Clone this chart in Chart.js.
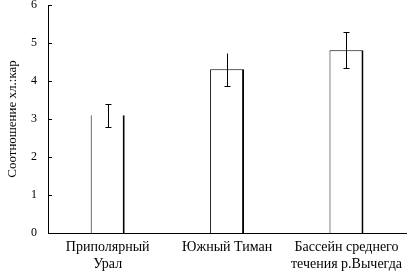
<!DOCTYPE html>
<html>
<head>
<meta charset="utf-8">
<script src="https://cdn.jsdelivr.net/npm/chart.js@4.4.0/dist/chart.umd.min.js"></script>
<style>
  html, body { margin: 0; padding: 0; background: #fff; }
  #wrap { width: 408px; height: 274px; }
</style>
</head>
<body>
<div id="wrap"><canvas id="myChart" width="408" height="274"></canvas></div>
<script>
// регионы и средние значения
const regions = [['Приполярный', 'Урал'], 'Южный Тиман', ['Бассейн среднего', 'течения р.Вычегда']];
const ratio = [3.1, 4.31, 4.81];
const errLow = [2.8, 3.87, 4.33];
const errHigh = [3.4, 4.73, 5.28];
const yTicks = [0, 1, 2, 3, 4, 5, 6];

const FONT = "'Liberation Serif', 'Times New Roman', serif";

// усы погрешности
const errorBars = {
    id: 'errorBars',
    afterDatasetsDraw(chart) {
        const ctx = chart.ctx;
        const y = chart.scales.y;
        const meta = chart.getDatasetMeta(0);
        ctx.save();
        ctx.strokeStyle = '#000';
        ctx.lineWidth = 1;
        meta.data.forEach((bar, i) => {
            const x = Math.round(bar.x) + 0.5;
            const top = Math.round(y.getPixelForValue(errHigh[i])) + 0.5;
            const bot = Math.round(y.getPixelForValue(errLow[i])) + 0.5;
            ctx.beginPath();
            ctx.moveTo(x, top);
            ctx.lineTo(x, bot);
            if (i !== 1) {   // у второго столбика верхней засечки нет
                ctx.moveTo(x - 3, top);
                ctx.lineTo(x + 3, top);
            }
            ctx.moveTo(x - 3, bot);
            ctx.lineTo(x + 3, bot);
            ctx.stroke();
        });
        ctx.restore();
    }
};

// засечки оси Y внутрь
const innerTicks = {
    id: 'innerTicks',
    afterDraw(chart) {
        const ctx = chart.ctx;
        const y = chart.scales.y;
        const left = chart.chartArea.left;
        ctx.save();
        ctx.strokeStyle = '#000';
        ctx.lineWidth = 1;
        yTicks.forEach(v => {
            const py = Math.round(y.getPixelForValue(v)) + 0.5;
            ctx.beginPath();
            ctx.moveTo(left, py);
            ctx.lineTo(left + 4, py);
            ctx.stroke();
        });
        ctx.restore();
    }
};

const config = {
    type: 'bar',
    data: {
        labels: regions,
        datasets: [{
            data: ratio,
            backgroundColor: '#fff',
            borderColor: '#000',
            borderSkipped: false,
            borderWidth: (c) => ({ left: 1, right: 2, top: c.dataIndex === 0 ? 0 : 1, bottom: 0 }),
            inflateAmount: 0,
            barThickness: 34
        }]
    },
    options: {
        responsive: false,
        animation: false,
        layout: { padding: { top: 5, right: 0, left: 0, bottom: 0 } },
        plugins: { legend: { display: false }, tooltip: { enabled: false } },
        scales: {
            x: {
                afterFit: (s) => { s.height = 41; },
                grid: { display: false, drawTicks: false },
                border: { color: '#000', width: 1 },
                ticks: { color: '#000', padding: 6, maxRotation: 0, autoSkip: false,
                         font: { family: FONT, size: 14, lineHeight: 1.2 } }
            },
            y: {
                min: 0, max: 6,
                afterFit: (s) => { s.width = 48; s.paddingTop = 0; s.paddingBottom = 0; },
                grid: { display: false, drawTicks: false },
                border: { color: '#000', width: 1 },
                afterBuildTicks: (s) => { s.ticks = yTicks.map(v => ({ value: v })); },
                ticks: { color: '#000', padding: 11, font: { family: FONT, size: 12 } },
                title: { display: true, text: 'Соотношение хл.:кар', color: '#000',
                         padding: { top: 5, bottom: 0 }, font: { family: FONT, size: 13 } }
            }
        }
    },
    plugins: [errorBars, innerTicks]
};

new Chart(document.querySelector('#myChart').getContext('2d'), config);
</script>
</body>
</html>
